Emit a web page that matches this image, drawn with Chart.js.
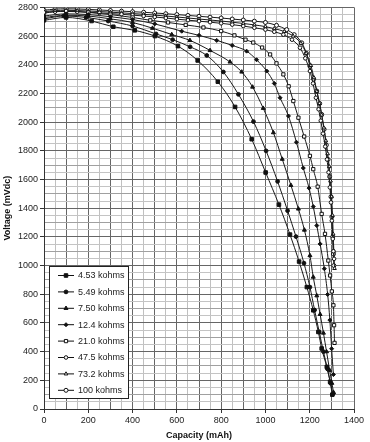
<!DOCTYPE html>
<html>
<head>
<meta charset="utf-8">
<script src="https://cdn.jsdelivr.net/npm/chart.js@4/dist/chart.umd.min.js"></script>
<style>
  body { margin: 0; background: #ffffff; }
  #wrap { width: 370px; height: 442px; }
</style>
</head>
<body>
<div id="wrap"><canvas id="batteryChart" width="370" height="442"></canvas></div>
<script>
// capacity (mAh) / voltage (mVdc) per load resistance
const seriesNames = ['4.53 kohms', '5.49 kohms', '7.50 kohms', '12.4 kohms', '21.0 kohms', '47.5 kohms', '73.2 kohms', '100 kohms'];

const cap453 = [0, 100, 215, 313, 410, 501, 605, 694, 785, 863, 938, 1001, 1061, 1111, 1152, 1187, 1216, 1239, 1254, 1277, 1292, 1302];
const volt453 = [2710, 2730, 2705, 2665, 2640, 2600, 2530, 2430, 2282, 2106, 1881, 1649, 1425, 1216, 1028, 850, 688, 537, 422, 294, 190, 100];

const cap549 = [0, 90, 190, 290, 400, 506, 581, 660, 735, 810, 878, 946, 1003, 1055, 1100, 1138, 1174, 1201, 1222, 1243, 1262, 1280, 1294, 1305];
const volt549 = [2720, 2740, 2730, 2705, 2670, 2615, 2575, 2525, 2465, 2350, 2194, 2004, 1800, 1587, 1383, 1202, 1017, 850, 690, 537, 400, 280, 180, 105];

const cap750 = [0, 100, 200, 300, 400, 490, 577, 659, 750, 840, 893, 942, 990, 1036, 1076, 1115, 1149, 1176, 1201, 1216, 1232, 1247, 1262, 1276, 1290, 1300, 1308];
const volt750 = [2730, 2745, 2740, 2720, 2695, 2655, 2611, 2570, 2500, 2420, 2350, 2245, 2097, 1927, 1742, 1560, 1395, 1248, 1070, 920, 790, 660, 530, 400, 270, 180, 115];

const cap124 = [0, 100, 200, 300, 400, 500, 622, 700, 780, 850, 915, 960, 1006, 1040, 1066, 1104, 1140, 1171, 1197, 1216, 1232, 1247, 1266, 1281, 1291, 1299, 1307];
const volt124 = [2740, 2755, 2750, 2735, 2715, 2685, 2634, 2605, 2570, 2535, 2495, 2435, 2356, 2270, 2170, 2043, 1860, 1680, 1540, 1411, 1279, 1151, 978, 799, 620, 420, 240];

const cap210 = [0, 100, 200, 300, 400, 480, 560, 640, 720, 800, 860, 910, 945, 985, 1021, 1050, 1081, 1105, 1126, 1149, 1175, 1201, 1216, 1236, 1254, 1269, 1284, 1292, 1300, 1307, 1310, 1312];
const volt210 = [2765, 2775, 2765, 2750, 2730, 2710, 2695, 2678, 2660, 2635, 2605, 2575, 2555, 2520, 2472, 2410, 2333, 2250, 2147, 2031, 1900, 1765, 1672, 1550, 1360, 1221, 1035, 931, 820, 723, 584, 461];

const cap475 = [0, 50, 100, 150, 200, 250, 300, 350, 400, 450, 500, 550, 600, 650, 700, 750, 800, 850, 900, 950, 1000, 1040, 1081, 1120, 1156, 1180, 1201, 1215, 1228, 1240, 1250, 1260, 1270, 1278, 1285, 1291, 1296, 1300, 1304, 1307, 1310];
const volt475 = [2760, 2770, 2772, 2770, 2766, 2762, 2757, 2752, 2746, 2740, 2733, 2726, 2718, 2711, 2704, 2697, 2689, 2680, 2670, 2658, 2645, 2630, 2610, 2575, 2519, 2445, 2356, 2270, 2170, 2090, 2010, 1920, 1830, 1740, 1650, 1545, 1440, 1313, 1186, 1100, 1047];

const cap732 = [0, 50, 100, 150, 200, 250, 300, 350, 400, 450, 500, 550, 600, 650, 700, 750, 800, 850, 900, 950, 1000, 1040, 1085, 1125, 1160, 1184, 1205, 1219, 1232, 1244, 1254, 1264, 1273, 1281, 1288, 1294, 1299, 1303, 1306, 1309, 1312];
const volt732 = [2770, 2778, 2780, 2778, 2775, 2771, 2767, 2762, 2757, 2752, 2746, 2740, 2733, 2726, 2719, 2712, 2705, 2697, 2688, 2678, 2666, 2652, 2632, 2600, 2550, 2480, 2395, 2310, 2215, 2130, 2050, 1960, 1870, 1780, 1690, 1590, 1480, 1350, 1220, 1100, 980];

const cap100 = [0, 50, 100, 150, 200, 250, 300, 350, 400, 450, 500, 550, 600, 650, 700, 750, 800, 850, 900, 950, 1000, 1050, 1096, 1130, 1164, 1185, 1201, 1218, 1232, 1245, 1254, 1265, 1275, 1283, 1290, 1296, 1300, 1304, 1307, 1309];
const volt100 = [2780, 2788, 2790, 2789, 2786, 2782, 2778, 2774, 2770, 2766, 2761, 2756, 2750, 2744, 2738, 2732, 2726, 2719, 2712, 2704, 2695, 2675, 2645, 2610, 2553, 2480, 2390, 2300, 2217, 2130, 2054, 1950, 1840, 1740, 1620, 1480, 1340, 1200, 1080, 1000];

const xTicks = [0, 200, 400, 600, 800, 1000, 1200, 1400];
const yTicks = [0, 200, 400, 600, 800, 1000, 1200, 1400, 1600, 1800, 2000, 2200, 2400, 2600, 2800];

const caps = [cap453, cap549, cap750, cap124, cap210, cap475, cap732, cap100];
const volts = [volt453, volt549, volt750, volt124, volt210, volt475, volt732, volt100];
const styles = ['rect', 'circle', 'triangle', 'rectRot', 'rect', 'circle', 'triangle', 'circle'];
const filled = [true, true, true, true, false, false, false, false];
const radii = [2.5, 1.9, 2.3, 2.0, 2.3, 1.8, 2.1, 2.0];

const FONT = '"Liberation Sans", Arial, sans-serif';

const datasets = seriesNames.map(function (name, i) {
    return {
        label: name,
        data: caps[i].map(function (c, j) { return { x: c, y: volts[i][j] }; }),
        borderColor: '#1a1a1a',
        borderWidth: 1,
        backgroundColor: filled[i] ? '#111111' : '#ffffff',
        pointStyle: styles[i],
        pointRadius: radii[i],
        pointBorderWidth: 1,
        pointBorderColor: '#111111',
        pointBackgroundColor: filled[i] ? '#111111' : '#ffffff',
        cubicInterpolationMode: 'monotone',
        fill: false
    };
});

// legend box drawn inside the plot, lower left
const legendBox = {
    id: 'legendBox',
    afterDraw(chart) {
        const ctx = chart.ctx;
        const left = 49, top = 266, w = 79, h = 132;
        ctx.save();
        ctx.fillStyle = '#ffffff';
        ctx.fillRect(left, top, w, h);
        ctx.strokeStyle = '#222222';
        ctx.lineWidth = 1;
        ctx.strokeRect(left + 0.5, top + 0.5, w, h);
        ctx.font = '9px ' + FONT;
        ctx.textBaseline = 'middle';
        seriesNames.forEach(function (name, i) {
            const y = top + 9.5 + i * 16.4;
            ctx.strokeStyle = '#111111';
            ctx.lineWidth = 1;
            ctx.beginPath();
            ctx.moveTo(58, y);
            ctx.lineTo(74, y);
            ctx.stroke();
            ctx.fillStyle = filled[i] ? '#111111' : '#ffffff';
            ctx.strokeStyle = '#111111';
            Chart.helpers.drawPoint(ctx, { pointStyle: styles[i], radius: radii[i], rotation: 0, borderWidth: 1 }, 66, y);
            ctx.fillStyle = '#222222';
            ctx.fillText(name, 78, y + 0.5);
        });
        ctx.restore();
    }
};

function gridX(ctx) {
    const v = ctx.tick.value;
    return v % 100 === 0 ? '#666666' : '#c0c0c0';
}
function gridY(ctx) {
    const v = ctx.tick.value;
    if (v % 200 === 0) return '#666666';
    if (v % 100 === 0) return '#a0a0a0';
    return '#c4c4c4';
}

const config = {
    type: 'line',
    data: { datasets: datasets },
    options: {
        responsive: false,
        animation: false,
        layout: { padding: { top: 6, right: 16, left: 0, bottom: 0 } },
        plugins: {
            legend: { display: false },
            tooltip: { enabled: false }
        },
        scales: {
            x: {
                type: 'linear',
                min: 0,
                max: 1400,
                afterFit: function (s) { s.height = 33; },
                afterBuildTicks: function (s) {
                    const t = [];
                    for (let v = 0; v <= 1400; v += 50) t.push({ value: v });
                    s.ticks = t;
                },
                ticks: {
                    autoSkip: false,
                    maxRotation: 0,
                    padding: 2,
                    color: '#222222',
                    font: { family: FONT, size: 9 },
                    callback: function (v) { return xTicks.includes(v) ? String(v) : ''; }
                },
                grid: {
                    color: gridX,
                    lineWidth: 1,
                    tickLength: 4,
                    tickColor: function (ctx) { return xTicks.includes(ctx.tick.value) ? '#333333' : 'rgba(0,0,0,0)'; }
                },
                border: { color: '#333333' },
                title: {
                    display: true,
                    text: 'Capacity (mAh)',
                    color: '#111111',
                    padding: { top: 0, bottom: 1 },
                    font: { family: FONT, size: 9, weight: 'bold' }
                }
            },
            y: {
                type: 'linear',
                min: 0,
                max: 2800,
                afterFit: function (s) { s.width = 44; },
                afterBuildTicks: function (s) {
                    const t = [];
                    for (let v = 0; v <= 2800; v += 50) t.push({ value: v });
                    s.ticks = t;
                },
                ticks: {
                    autoSkip: false,
                    padding: 2,
                    color: '#222222',
                    font: { family: FONT, size: 9 },
                    callback: function (v) { return yTicks.includes(v) ? String(v) : ''; }
                },
                grid: {
                    color: gridY,
                    lineWidth: 1,
                    tickLength: 4,
                    tickColor: function (ctx) { return yTicks.includes(ctx.tick.value) ? '#333333' : 'rgba(0,0,0,0)'; }
                },
                border: { color: '#333333' },
                title: {
                    display: true,
                    text: 'Voltage (mVdc)',
                    color: '#111111',
                    padding: { top: 2, bottom: 0 },
                    font: { family: FONT, size: 9, weight: 'bold' }
                }
            }
        }
    },
    plugins: [legendBox]
};

const context = document.getElementById('batteryChart').getContext('2d');
const batteryChart = new Chart(context, config);
</script>
</body>
</html>
